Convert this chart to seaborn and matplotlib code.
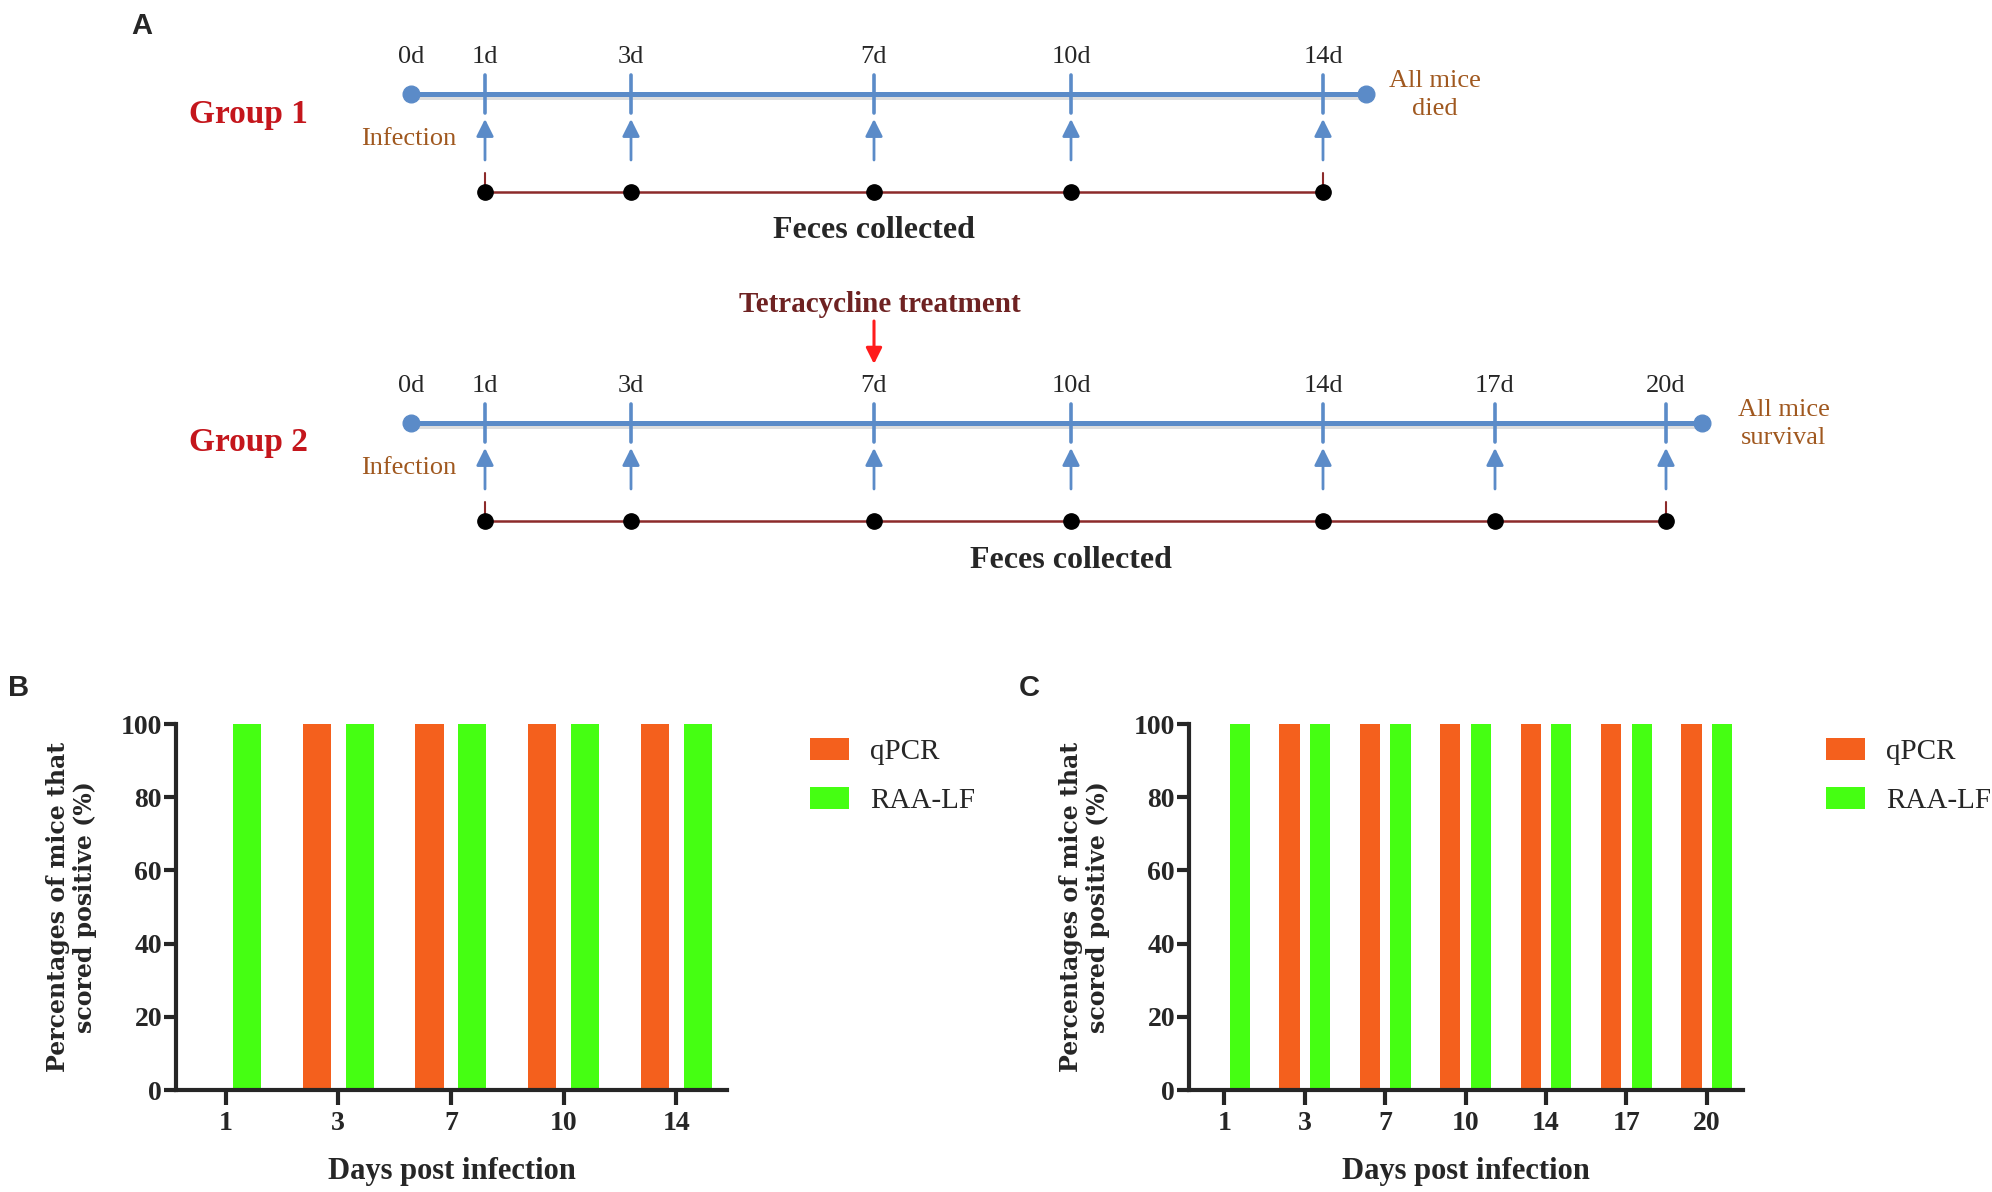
import numpy as np
import pandas as pd
import matplotlib
matplotlib.use("Agg")
import matplotlib.pyplot as plt
import seaborn as sns

# bar data, panel B (group 1) and panel C (group 2)
methods = ["qPCR", "RAA-LF"]
days_b = ["1", "3", "7", "10", "14"]
qpcr_b = [0, 100, 100, 100, 100]
raa_b = [100, 100, 100, 100, 100]
days_c = ["1", "3", "7", "10", "14", "17", "20"]
qpcr_c = [0, 100, 100, 100, 100, 100, 100]
raa_c = [100, 100, 100, 100, 100, 100, 100]

# timeline schematic, panel A
group1_days = [1, 3, 7, 10, 14]
group2_days = [1, 3, 7, 10, 14, 17, 20]
treatment_day = 7

# schematic layout (figure pixels, the drawing is not to scale)
day_x = {0: 411, 1: 485, 3: 631, 7: 874, 10: 1071, 14: 1323, 17: 1495, 20: 1666}

sns.set_style("ticks")
plt.rcParams["font.family"] = ["Liberation Serif", "DejaVu Serif"]

blue = "#5b8bc8"
brown = "#a0581f"
bar_colors = {"qPCR": "#f4601d", "RAA-LF": "#45ff12"}

fig = plt.figure(figsize=(19.92, 11.92), dpi=100)

# panel A drawn in pixel coordinates
ax_a = fig.add_axes([0, 0, 1, 1])
ax_a.set_xlim(0, 1992)
ax_a.set_ylim(1192, 0)
ax_a.axis("off")
ax_a.set_facecolor("none")


def draw_timeline(ax, y, days, end_x, name, end_text, end_dx, feces_day):
    x0 = day_x[0]
    ax.plot([x0, end_x], [y + 3, y + 3], color="#c8c8c8", lw=3.6, alpha=0.6, zorder=1)
    ax.plot([x0, end_x], [y, y], color=blue, lw=3.6, zorder=2)
    ax.plot([x0, end_x], [y, y], "o", color=blue, ms=12, zorder=3)
    ax.text(x0, y - 37, "0d", ha="center", va="center", fontsize=19)
    xs = [day_x[d] for d in days]
    for d, x in zip(days, xs):
        ax.plot([x, x], [y - 19, y + 19], color=blue, lw=2.6, zorder=3)
        ax.text(x, y - 37, f"{d}d", ha="center", va="center", fontsize=19)
        ax.annotate("", xy=(x, y + 25), xytext=(x, y + 66),
                    arrowprops=dict(arrowstyle="-|>", color=blue, lw=2.0,
                                    mutation_scale=26, shrinkA=0, shrinkB=0))
    yf = y + 98
    ax.plot([xs[0], xs[-1]], [yf, yf], color="#8c2a2a", lw=1.8, zorder=2)
    ax.plot([xs[0], xs[0]], [yf - 19, yf], color="#8c2a2a", lw=1.5)
    ax.plot([xs[-1], xs[-1]], [yf - 19, yf], color="#8c2a2a", lw=1.5)
    ax.plot(xs, [yf] * len(xs), "o", color="black", ms=11, zorder=3)
    ax.text(day_x[feces_day], yf + 39, "Feces collected", ha="center", va="center",
            fontsize=23, fontweight="bold")
    ax.text(248, y + 20, name, ha="center", va="center", fontsize=24,
            fontweight="bold", color="#c4161c")
    ax.text(x0 - 2, y + 45, "Infection", ha="center", va="center", fontsize=19, color=brown)
    ax.text(end_x + end_dx, y + 1, end_text, ha="center", va="center", fontsize=19,
            color=brown, linespacing=1.3)


draw_timeline(ax_a, 94, group1_days, 1366, "Group 1", "All mice\ndied", 69, 7)
draw_timeline(ax_a, 423, group2_days, 1702, "Group 2", "All mice\nsurvival", 82, 10)

tx = day_x[treatment_day]
ax_a.text(tx + 6, 304, "Tetracycline treatment", ha="center", va="center",
          fontsize=21, fontweight="bold", color="#6e2222")
ax_a.annotate("", xy=(tx, 364), xytext=(tx, 321),
              arrowprops=dict(arrowstyle="-|>", color="#ff1c1c", lw=2.2,
                              mutation_scale=24, shrinkA=0, shrinkB=0))

for letter, (lx, ly) in {"A": (142, 26), "B": (19, 688), "C": (1029, 688)}.items():
    ax_a.text(lx, ly, letter, ha="center", va="center", fontsize=21,
              fontweight="bold", family="Liberation Sans")


def bar_panel(rect, days, qpcr, raa):
    ax = fig.add_axes(rect)
    ax.set_facecolor("none")
    n = len(days)
    df = pd.DataFrame({
        "day": days * 2,
        "method": ["qPCR"] * n + ["RAA-LF"] * n,
        "value": qpcr + raa,
    })
    sns.barplot(data=df, x="day", y="value", hue="method", order=days,
                hue_order=methods, palette=bar_colors, width=0.76, gap=0.34,
                saturation=1, linewidth=0, errorbar=None, ax=ax)
    leg = ax.get_legend()
    handles = leg.legend_handles
    labels = [t.get_text() for t in leg.texts]
    leg.remove()
    ax.legend(handles, labels, loc="upper left", bbox_to_anchor=(1.15, 0.962),
              frameon=False, fontsize=21, handlelength=1.34, handleheight=0.79,
              handletextpad=0.72, labelspacing=0.74, borderpad=0, borderaxespad=0)
    ax.set_xlim(-0.44, n - 1 + 0.45)
    ax.set_ylim(0, 100)
    ax.set_yticks(range(0, 101, 20))
    sns.despine(ax=ax)
    for s in ["left", "bottom"]:
        ax.spines[s].set_linewidth(3)
    ax.tick_params(axis="both", width=3, labelsize=20, direction="out")
    ax.tick_params(axis="y", length=9, pad=1)
    ax.tick_params(axis="x", length=11, pad=4)
    for t in ax.get_xticklabels() + ax.get_yticklabels():
        t.set_fontweight("bold")
    ax.set_xlabel("Days post infection", fontsize=22, fontweight="bold", labelpad=15)
    ax.set_ylabel("Percentages of mice that\nscored positive (%)", fontsize=17,
                  fontweight="bold", family="DejaVu Serif", labelpad=17, linespacing=1.15)
    return ax


bar_panel([176 / 1992, 102 / 1192, 551 / 1992, 366 / 1192], days_b, qpcr_b, raa_b)
bar_panel([1189 / 1992, 102 / 1192, 554 / 1992, 366 / 1192], days_c, qpcr_c, raa_c)

fig.savefig("out.png", dpi=100)
